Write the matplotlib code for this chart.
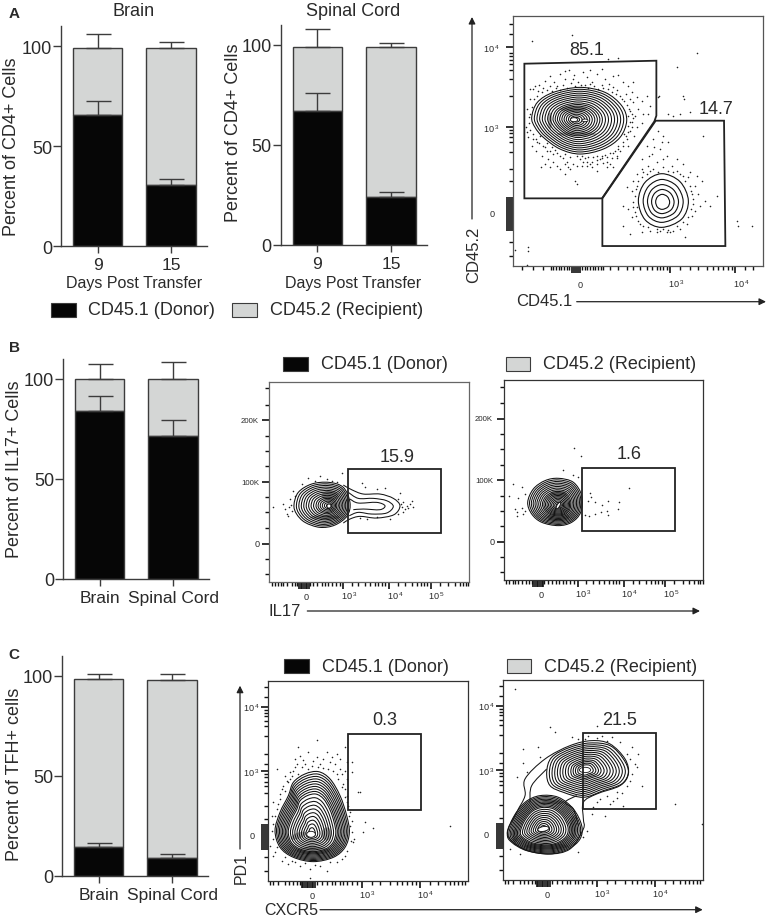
import matplotlib
matplotlib.use("AGG")
import matplotlib.pyplot as plt
import numpy as np
from matplotlib.patches import Ellipse, PathPatch, Rectangle
from matplotlib.path import Path

plt.rcParams["font.family"] = ["Liberation Sans", "DejaVu Sans"]

W, H = 768, 920
TEXT = "#2a2a2a"
BLACK = "#060606"
GREY = "#d4d6d5"
LINE = "#3c3c3c"

# stacked bars: donor share, its error top, total, total error top
A_BRAIN_DAYS = ["9", "15"]
A_BRAIN_DONOR = [65.5, 30.5]
A_BRAIN_DONOR_TOP = [72.5, 33.3]
A_BRAIN_TOTAL = [99, 99]
A_BRAIN_TOTAL_TOP = [106, 102]

A_CORD_DAYS = ["9", "15"]
A_CORD_DONOR = [67, 24]
A_CORD_DONOR_TOP = [76, 26.5]
A_CORD_TOTAL = [99, 99]
A_CORD_TOTAL_TOP = [108, 101]

TISSUES = ["Brain", "Spinal Cord"]
B_DONOR = [84, 71.5]
B_DONOR_TOP = [91.5, 79.5]
B_TOTAL = [100, 100]
B_TOTAL_TOP = [107.5, 108.5]

C_DONOR = [14.5, 9]
C_DONOR_TOP = [16.5, 11]
C_TOTAL = [98.5, 98]
C_TOTAL_TOP = [101, 101]

# flow plots, coordinates are channel values of each box
RING_15 = [1, .93, .86, .79, .72, .65, .58, .51, .44, .37, .31, .25, .19, .13, .07]
RING_18 = [1, .94, .88, .82, .76, .70, .64, .58, .52, .47, .42, .37, .32, .27, .22, .17, .12, .07]
RING_DENSE = [1, .96, .92, .88, .84, .80, .76, .72, .68, .64, .58, .52, .46, .40, .34, .28, .22, .16, .10]
RING_5 = [1, .8, .62, .45, .28]

A_BLOB = [(245, 355), (262, 310), (310, 280), (390, 265), (465, 280), (515, 320), (530, 365),
          (510, 415), (460, 450), (390, 465), (330, 450), (280, 415), (255, 385)]
A_BLOB_C = (378, 362)
A_SMALL = [(565, 605), (585, 550), (635, 524), (690, 548), (715, 605), (695, 660), (635, 685), (585, 662)]
A_SMALL_C = (637, 610)
A_GATE_1 = [(223, 194), (619, 185), (619, 350), (613, 367), (456, 598), (223, 598)]
A_GATE_2 = [(617, 365), (822, 365), (826, 741), (457, 741), (457, 598)]
A_DOTS = [(250, 270), (268, 258), (285, 245), (300, 232), (312, 250), (330, 225), (345, 240), (358, 212),
          (372, 228), (385, 250), (398, 218), (410, 235), (425, 248), (440, 225), (455, 210), (465, 240),
          (478, 255), (490, 232), (505, 228), (520, 250), (535, 262), (548, 250), (300, 262), (318, 268),
          (340, 258), (362, 252), (405, 258), (432, 262), (455, 258), (475, 270), (500, 272), (528, 285),
          (545, 280), (560, 295), (575, 305), (590, 290), (600, 320), (625, 295), (550, 310), (565, 330),
          (540, 335), (580, 345), (555, 350), (595, 345), (545, 370), (560, 385), (575, 372), (540, 395),
          (552, 410), (530, 420), (520, 440), (510, 455), (535, 440), (500, 470), (485, 478), (470, 490),
          (450, 480), (430, 475), (410, 490), (390, 480), (370, 495), (350, 488), (330, 470), (310, 465),
          (295, 480), (275, 470), (258, 455), (245, 440), (235, 415), (250, 420), (262, 430), (285, 445),
          (300, 455), (228, 385), (232, 400), (240, 270), (232, 330), (345, 525), (375, 545), (380, 555),
          (320, 500), (272, 505), (440, 515), (412, 500), (395, 500), (470, 505), (500, 478), (455, 470),
          (425, 505), (355, 505), (240, 300), (236, 355), (540, 300), (535, 350), (535, 380), (522, 405),
          (505, 440), (490, 462), (465, 468), (440, 470), (415, 474), (380, 472), (345, 465), (315, 452),
          (290, 432), (270, 412), (255, 262), (280, 268), (330, 272), (420, 255), (490, 265), (515, 300),
          (262, 290), (275, 280), (290, 272), (305, 275), (320, 262), (352, 266), (375, 260), (392, 258),
          (415, 266), (445, 270), (460, 266), (485, 278), (498, 285), (510, 290), (522, 305), (530, 318),
          (538, 330), (545, 345), (548, 358), (540, 368), (545, 385), (535, 400), (528, 412), (518, 428),
          (505, 450), (495, 455), (480, 462), (470, 475), (455, 478), (440, 482), (425, 488), (405, 478),
          (395, 472), (360, 475), (340, 478), (322, 462), (305, 445), (292, 455), (278, 440), (268, 432),
          (258, 420), (248, 405), (240, 392), (238, 372), (240, 345), (245, 325), (252, 300), (400, 490),
          (380, 500), (360, 510), (345, 495), (330, 510), (310, 490), (300, 505), (285, 495), (420, 495),
          (440, 495), (460, 492), (480, 495), (490, 505), (265, 275), (345, 215), (420, 212), (370, 240),
          (600, 385), (625, 395), (640, 410), (610, 420), (590, 440), (655, 430), (630, 450), (605, 465),
          (575, 480), (650, 470), (680, 480), (620, 490), (595, 500), (700, 495), (665, 500), (640, 505),
          (575, 510), (560, 525), (720, 520), (700, 530), (740, 530), (550, 545), (530, 565), (545, 575),
          (735, 560), (755, 545), (720, 560), (745, 585), (730, 600), (765, 605), (780, 620), (750, 620),
          (735, 635), (725, 650), (520, 620), (535, 630), (550, 610), (555, 640), (545, 655), (565, 665),
          (580, 680), (600, 695), (620, 700), (640, 690), (660, 700), (690, 690), (705, 715), (540, 705),
          (520, 680), (575, 700), (710, 675), (680, 680), (560, 560), (575, 535), (555, 590), (725, 585),
          (715, 535), (600, 515), (680, 515), (560, 625), (700, 670), (620, 690), (655, 692), (590, 525),
          (610, 510), (625, 518), (655, 515), (670, 520), (690, 525), (705, 545), (722, 575), (728, 615),
          (722, 630), (715, 655), (670, 695), (650, 700), (630, 695), (595, 685), (570, 675), (558, 650),
          (548, 625), (558, 570), (565, 545), (580, 520), (640, 480), (612, 445), (635, 430), (598, 470),
          (247, 127), (367, 108), (742, 163), (680, 203), (505, 176), (475, 180), (700, 290), (702, 300),
          (628, 292), (655, 345), (690, 345), (720, 340), (670, 350), (760, 410), (800, 590), (860, 665),
          (865, 680), (905, 680), (195, 752), (233, 745), (233, 757), (232, 798)]
A_X_MAJOR = [366, 372, 378, 384, 390, 660, 855]
A_X_MINOR = [215, 250, 280, 303, 310, 318, 326, 334, 342, 350, 358, 396, 404, 412,
             420, 428, 436, 444, 452, 460, 480, 505, 530, 550, 570, 590, 605, 620, 630, 640, 650, 690, 720,
             745, 770, 790, 805, 820, 835, 845, 885, 910]
A_Y_MAJOR = [143, 384, 597, 603, 609, 615, 621, 627, 633, 639, 645, 651, 657, 663, 669, 675, 681, 687, 693]
A_Y_MINOR = [75, 105, 163, 172, 182, 195, 213, 240, 290, 393, 403, 415, 430, 460, 510, 545, 730, 770]

B1_BLOB = [(192, 498), (205, 460), (245, 435), (297, 430), (340, 445), (360, 490), (352, 530), (315, 558),
           (270, 565), (225, 550), (200, 525)]
B1_BLOB_C = (297, 500)
B1_TAIL = [[(340, 438), (365, 452), (400, 465), (450, 465), (490, 478), (510, 500), (492, 527), (440, 537),
            (390, 532), (360, 540), (340, 552)],
           [(355, 460), (385, 478), (430, 478), (470, 485), (490, 502), (470, 522), (425, 525), (385, 520),
            (358, 530)],
           [(360, 480), (385, 492), (440, 490), (465, 500), (450, 512), (400, 510), (370, 512)]]
B1_GATE = [(354, 391), (634, 391), (634, 581), (354, 581)]
B1_DOTS = [(130, 503), (160, 495), (165, 510), (170, 525), (180, 480), (185, 515), (190, 455), (175, 530),
           (235, 417), (270, 412), (290, 420), (335, 402), (305, 425), (395, 432), (405, 445), (440, 450),
           (465, 448), (510, 462), (505, 480), (520, 490), (515, 505), (530, 500), (545, 485), (548, 505),
           (535, 508), (520, 520), (505, 525), (390, 538), (410, 540), (480, 540), (440, 535), (183, 498),
           (178, 505), (195, 470), (215, 435), (255, 425), (320, 428), (512, 495), (525, 510), (540, 495)]
B_X_MAJOR = [207, 212, 217, 222, 227, 232, 237, 340, 478, 603]
B_X_MINOR = [125, 135, 145, 152, 160, 172, 185, 195, 202, 240, 250, 262,
             275, 285, 295, 305, 318, 330, 365, 385, 405, 420, 435, 445, 455, 465, 505, 525, 545, 560, 572,
             582, 592, 630, 655, 675, 690, 700, 708, 715]
B_Y_MAJOR = [244, 429, 614]
B_Y_MINOR = [148, 198, 290, 335, 382, 475, 520, 567, 660, 705]

B2_BLOB = [(893, 490), (910, 450), (945, 425), (985, 418), (1030, 430), (1055, 470), (1052, 520), (1025, 550),
           (985, 560), (935, 550), (905, 525)]
B2_BLOB_C = (985, 500)
B2_GATE = [(1057, 386), (1336, 386), (1336, 577), (1057, 577)]
B2_DOTS = [(848, 435), (838, 470), (875, 445), (885, 465), (865, 478), (855, 510), (860, 520), (875, 508),
           (880, 525), (860, 530), (885, 515), (1000, 392), (1030, 408), (1032, 328), (1053, 351), (1045, 415),
           (1080, 462), (1082, 475), (1075, 485), (1095, 490), (1115, 497), (1135, 485), (1168, 490),
           (1197, 447), (1165, 510), (1130, 515), (1112, 520), (1095, 525), (1078, 532), (1065, 528), (1135, 528)]

C1_BLOB = [(135, 575), (150, 520), (175, 470), (190, 430), (225, 405), (265, 398), (300, 420), (330, 470),
           (350, 530), (358, 580), (345, 625), (310, 655), (250, 668), (190, 655), (150, 625)]
C1_BLOB_C = (245, 585)
C1_GATE = [(354, 284), (573, 284), (573, 514), (354, 514)]
C1_DOTS = [(205, 325), (262, 302), (210, 350), (235, 340), (260, 355), (290, 340), (200, 375), (225, 375),
           (245, 380), (270, 375), (300, 370), (320, 345), (330, 360), (345, 325), (350, 370), (140, 390),
           (165, 410), (190, 395), (310, 395), (335, 405), (350, 420), (365, 370), (365, 400), (160, 440),
           (175, 430), (150, 465), (130, 490), (140, 510), (125, 530), (345, 450), (355, 500), (385, 460),
           (360, 520), (365, 545), (405, 548), (430, 567), (400, 578), (372, 600), (125, 575), (120, 620),
           (130, 650), (155, 665), (175, 675), (210, 680), (240, 690), (270, 680), (290, 695), (320, 670),
           (345, 650), (240, 717), (660, 560), (390, 458), (150, 480), (165, 455), (215, 385), (280, 388),
           (180, 420), (325, 420), (340, 435), (350, 470), (365, 580), (370, 610), (135, 640), (195, 670),
           (195, 360), (220, 362), (250, 365), (280, 360), (305, 355), (315, 375), (330, 390), (345, 395),
           (185, 410), (170, 425), (155, 450), (145, 495), (135, 530), (128, 555), (130, 600), (140, 625),
           (165, 655), (185, 665), (225, 672), (255, 678), (300, 668), (335, 660), (352, 635), (362, 605),
           (360, 560), (358, 530), (352, 490), (345, 475), (335, 445), (320, 405), (295, 390), (265, 385),
           (235, 390), (205, 405), (195, 385), (180, 400)]
C_X_MAJOR = [215, 220, 225, 230, 235, 240, 245, 250, 255, 395, 570]
C_X_MINOR = [120, 130, 145, 165, 178, 190, 200, 210, 260, 275,
             290, 305, 315, 330, 340, 352, 365, 380, 425, 450, 480, 500, 515, 530, 545, 558, 600, 625, 645,
             660, 672, 685, 695, 705]
C_Y_MAJOR = [203, 395, 558, 564, 570, 576, 582, 588, 594, 600, 606, 612, 618, 624, 630]
C_Y_MINOR = [145, 175, 212, 222, 232, 245, 262, 290, 345, 375, 405, 415, 428, 440, 462, 500, 540, 655, 695]

C2_LOWER = [(832, 585), (850, 535), (885, 490), (930, 470), (985, 475), (1030, 510), (1055, 560), (1050, 600),
            (1015, 630), (960, 645), (890, 635), (845, 610)]
C2_LOWER_C = (940, 570)
C2_UPPER = [(950, 400), (965, 355), (1020, 325), (1080, 312), (1140, 320), (1180, 360), (1195, 400),
            (1175, 435), (1120, 455), (1060, 475), (1000, 460), (960, 440)]
C2_UPPER_C = (1065, 393)
C2_OUTER = [[(832, 585), (860, 520), (885, 470), (885, 420), (945, 360), (1020, 320), (1085, 305), (1140, 315),
             (1185, 360), (1195, 405), (1170, 440), (1100, 465), (1060, 490), (1060, 540), (1060, 570),
             (1020, 630), (955, 645), (880, 630)]]
C2_LINKS = [[(900, 490), (905, 440), (950, 390)], [(1040, 470), (1005, 490), (1030, 510), (1045, 560)]]
C2_GATE = [(1059, 281), (1278, 281), (1278, 511), (1059, 511)]
C2_DOTS = [(855, 150), (960, 265), (975, 278), (1100, 262), (880, 330), (925, 325), (930, 355), (880, 372),
           (860, 415), (890, 400), (1025, 295), (1045, 300), (1075, 292), (1100, 298), (1115, 290), (1145, 295),
           (1170, 310), (1205, 325), (1190, 345), (1225, 345), (1215, 375), (1220, 385), (1205, 405), (1200, 425),
           (1235, 440), (1190, 440), (1160, 460), (1130, 470), (1110, 480), (1140, 495), (1180, 500), (1090, 505),
           (1085, 525), (1125, 530), (1335, 495), (1415, 555), (1070, 575), (1060, 595), (1045, 640), (840, 630),
           (870, 645), (1160, 478), (1175, 462), (1150, 485), (1100, 490), (1065, 300), (1130, 305), (1200, 360)]

# dark patches where the rings run together: x, y, width, height, angle
A_PATCHES = [(370, 330, 80, 16, 0), (380, 405, 120, 12, 0), (300, 365, 12, 50, 0)]
A_HOLES = [(372, 362, 22, 12, 0), (405, 364, 18, 8, 0)]
B1_PATCHES = [(300, 470, 50, 30, 0), (285, 535, 90, 14, 0)]
B1_HOLES = [(297, 501, 12, 12, 0)]
B2_PATCHES = [(985, 535, 65, 24, 0), (985, 465, 50, 22, 0)]
B2_HOLES = [(985, 500, 8, 22, 30)]
C1_PATCHES = [(250, 635, 100, 22, 0), (205, 590, 50, 18, -20), (290, 585, 30, 40, 0)]
C1_HOLES = [(243, 586, 26, 18, 0)]
C2_PATCHES = [(950, 622, 130, 18, 0), (1030, 565, 20, 70, 0), (970, 490, 70, 12, 0), (855, 590, 18, 40, 0)]
C2_HOLES = [(940, 570, 34, 14, -10), (1065, 393, 34, 16, 0)]

fig = plt.figure(figsize=(W / 100, H / 100), dpi=100)


def px_axes(x0, y0, x1, y1):
    return fig.add_axes([x0 / W, 1 - y1 / H, (x1 - x0) / W, (y1 - y0) / H])


def stacked_bars(rect, labels, donor, donor_top, total, total_top, label_size=12.5, label_pad=3):
    ax = px_axes(*rect)
    x = np.arange(len(labels))
    ax.bar(x, np.array(total) - np.array(donor), 0.67, bottom=donor, color=GREY, edgecolor=LINE, linewidth=1.0)
    ax.bar(x, donor, 0.67, color=BLACK, edgecolor=LINE, linewidth=1.0)
    for tops, base in ((donor_top, donor), (total_top, total)):
        ax.errorbar(x, base, yerr=[np.zeros(len(x)), np.array(tops) - np.array(base)], fmt="none",
                    ecolor=LINE, elinewidth=1.0, capsize=9, capthick=1.0)
    ax.set_xlim(-0.5, 1.49)
    ax.set_ylim(0, 110)
    ax.set_yticks([0, 50, 100])
    ax.set_xticks(x, labels)
    ax.tick_params(axis="y", labelsize=13, length=6, width=1.0, color=LINE, labelcolor=TEXT, pad=0.5)
    ax.tick_params(axis="x", labelsize=label_size, length=5, width=1.0, color=LINE, labelcolor=TEXT, pad=label_pad)
    ax.spines[["top", "right"]].set_visible(False)
    ax.spines[["left", "bottom"]].set_color(LINE)
    ax.spines[["left", "bottom"]].set_linewidth(1.0)
    return ax


def smooth_path(pts, closed=True):
    # catmull-rom through the points, as bezier segments
    p = np.array(pts, dtype=float)
    n = len(p)
    verts = [p[0]]
    codes = [Path.MOVETO]
    for i in range(n if closed else n - 1):
        if closed:
            p0, p1, p2, p3 = p[(i - 1) % n], p[i], p[(i + 1) % n], p[(i + 2) % n]
        else:
            p0, p1, p2, p3 = p[max(i - 1, 0)], p[i], p[i + 1], p[min(i + 2, n - 1)]
        verts += [p1 + (p2 - p0) / 6, p2 - (p3 - p1) / 6, p2]
        codes += [Path.CURVE4] * 3
    return Path(verts, codes)


def contour_rings(ax, outline, center, rings, lw=0.75):
    c = np.array(center, dtype=float)
    pts = np.array(outline, dtype=float)
    for f in rings:
        ax.add_patch(PathPatch(smooth_path(c + f * (pts - c)), fill=False, ec="#101010", lw=lw))


def patches(ax, dark, holes):
    for x, y, w, h, a in dark:
        ax.add_patch(Ellipse((x, y), w, h, angle=a, fc="#101010", ec="none", alpha=0.35, zorder=3))
    for x, y, w, h, a in holes:
        ax.add_patch(Ellipse((x, y), w, h, angle=a, fc="white", ec="#101010", lw=0.6, zorder=4))


def flow_box(rect, lims, x_major, x_minor, y_major, y_minor, dots, gates, frame="#333333"):
    ax = px_axes(*rect)
    ax.set_xlim(lims[0], lims[1])
    ax.set_ylim(lims[3], lims[2])
    ax.set_xticks(x_major, [""] * len(x_major))
    ax.set_xticks(x_minor, minor=True)
    ax.set_yticks(y_major, [""] * len(y_major))
    ax.set_yticks(y_minor, minor=True)
    ax.tick_params(which="major", length=5, width=1.2, color="#111111")
    ax.tick_params(which="minor", length=2.6, width=1.0, color="#111111")
    for s in ax.spines.values():
        s.set_color(frame)
        s.set_linewidth(0.9)
    d = np.array(dots)
    ax.scatter(d[:, 0], d[:, 1], s=1.3, color="#222222", linewidths=0)
    for g in gates:
        ax.add_patch(plt.Polygon(g, closed=True, fill=False, ec="#222222", lw=1.3, zorder=5))
    return ax


def power_label(ax, x, y, text, size=6.6):
    ax.text(x, y, text, fontsize=size, color=TEXT, ha="center", va="center", clip_on=False)


P3 = r"$\mathdefault{10^{\,3}}$"
P4 = r"$\mathdefault{10^{\,4}}$"
P5 = r"$\mathdefault{10^{\,5}}$"

# bar panels
stacked_bars((61, 27, 207, 247), A_BRAIN_DAYS, A_BRAIN_DONOR, A_BRAIN_DONOR_TOP, A_BRAIN_TOTAL, A_BRAIN_TOTAL_TOP, 12.5, 3)
stacked_bars((280.7, 26, 427, 246), A_CORD_DAYS, A_CORD_DONOR, A_CORD_DONOR_TOP, A_CORD_TOTAL, A_CORD_TOTAL_TOP, 12.5, 3)
stacked_bars((63, 360, 209, 580), TISSUES, B_DONOR, B_DONOR_TOP, B_TOTAL, B_TOTAL_TOP)
stacked_bars((62, 657, 208, 877), TISSUES, C_DONOR, C_DONOR_TOP, C_TOTAL, C_TOTAL_TOP)

# panel A flow
ax = flow_box((512.7, 16.7, 762.7, 266.7), (188, 938, 50, 800), A_X_MAJOR, A_X_MINOR, A_Y_MAJOR, A_Y_MINOR,
              A_DOTS, [A_GATE_1, A_GATE_2], frame="#555555")
contour_rings(ax, A_BLOB, A_BLOB_C, RING_18)
contour_rings(ax, A_SMALL, A_SMALL_C, RING_5, lw=0.8)
patches(ax, A_PATCHES, A_HOLES)
ax.text(410, 150, "85.1", fontsize=13, color=TEXT, ha="center", va="center")
ax.text(798, 328, "14.7", fontsize=13, color=TEXT, ha="center", va="center")
for xp, yp, t in [(390, 855, "0"), (680, 853, P3), (875, 853, P4), (127, 643, "0"), (125, 148, P4), (125, 388, P3)]:
    power_label(ax, xp, yp, t)

# panel B flow
ax = flow_box((269.3, 382.7, 469.3, 582.7), (118, 718, 128, 728), B_X_MAJOR, B_X_MINOR, B_Y_MAJOR, B_Y_MINOR,
              B1_DOTS, [B1_GATE], frame="#666666")
contour_rings(ax, B1_BLOB, B1_BLOB_C, RING_15)
patches(ax, B1_PATCHES, B1_HOLES)
for line in B1_TAIL:
    ax.add_patch(PathPatch(smooth_path(line, closed=False), fill=False, ec="#151515", lw=0.75))
ax.text(502, 353, "15.9", fontsize=13, color=TEXT, ha="center", va="center")
for xp, yp, t in [(230, 772, "0"), (357, 768, P3), (495, 768, P4), (620, 768, P5),
                  (60, 245, "200K"), (60, 429, "100K"), (82, 614, "0")]:
    power_label(ax, xp, yp, t, 5.6 if "K" in t else 6.6)

ax = flow_box((503.7, 381.3, 703.3, 581.3), (821, 1420, 124, 724), [v + 703 for v in B_X_MAJOR],
              [v + 703 for v in B_X_MINOR], [v - 5 for v in B_Y_MAJOR], [v - 5 for v in B_Y_MINOR], B2_DOTS, [B2_GATE])
contour_rings(ax, B2_BLOB, B2_BLOB_C, RING_18)
patches(ax, B2_PATCHES, B2_HOLES)
ax.text(1198, 345, "1.6", fontsize=13, color=TEXT, ha="center", va="center")
for xp, yp, t in [(933, 768, "0"), (1060, 764, P3), (1198, 764, P4), (1323, 764, P5),
                  (762, 240, "200K"), (762, 425, "100K"), (785, 609, "0")]:
    power_label(ax, xp, yp, t, 5.6 if "K" in t else 6.6)

# panel C flow
ax = flow_box((267.7, 682.3, 467.7, 882.3), (113, 713, 127, 727), C_X_MAJOR, C_X_MINOR, C_Y_MAJOR, C_Y_MINOR,
              C1_DOTS, [C1_GATE])
contour_rings(ax, C1_BLOB, C1_BLOB_C, RING_DENSE)
patches(ax, C1_PATCHES, C1_HOLES)
ax.text(463, 243, "0.3", fontsize=13, color=TEXT, ha="center", va="center")
for xp, yp, t in [(245, 770, "0"), (412, 765, P3), (585, 765, P4), (65, 590, "0"), (65, 205, P4), (65, 400, P3)]:
    power_label(ax, xp, yp, t)

ax = flow_box((502.7, 681.3, 702.7, 881.3), (818, 1418, 124, 724), [v + 705 for v in C_X_MAJOR],
              [v + 705 for v in C_X_MINOR], [v - 3 for v in C_Y_MAJOR], [v - 3 for v in C_Y_MINOR], C2_DOTS, [C2_GATE])
contour_rings(ax, C2_LOWER, C2_LOWER_C, RING_DENSE)
contour_rings(ax, C2_UPPER, C2_UPPER_C, RING_15[:13])
patches(ax, C2_PATCHES, C2_HOLES)
for line in C2_OUTER:
    ax.add_patch(PathPatch(smooth_path(line), fill=False, ec="#151515", lw=0.75))
for line in C2_LINKS:
    ax.add_patch(PathPatch(smooth_path(line, closed=False), fill=False, ec="#151515", lw=0.75))
ax.text(1170, 243, "21.5", fontsize=13, color=TEXT, ha="center", va="center")
for xp, yp, t in [(950, 768, "0"), (1117, 763, P3), (1290, 763, P4), (769, 588, "0"), (768, 203, P4), (768, 397, P3)]:
    power_label(ax, xp, yp, t)

# everything placed on the page: letters, titles, legends, arrows
page = fig.add_axes([0, 0, 1, 1], zorder=10)
page.set_xlim(0, W)
page.set_ylim(H, 0)
page.axis("off")


def label(x, y, text, size=12.5, rotation=0, ha="center", weight="normal"):
    page.text(x, y, text, fontsize=size, color=TEXT, ha=ha, va="center", rotation=rotation,
              rotation_mode="anchor", fontweight=weight)


def legend(y0, y1, x_box1, x_text1, x_box2, x_text2, size=13):
    page.add_patch(Rectangle((x_box1, y0), 24.5, y1 - y0, fc=BLACK, ec=LINE, lw=0.8))
    page.add_patch(Rectangle((x_box2, y0), 24.5, y1 - y0, fc=GREY, ec=LINE, lw=0.8))
    yc = (y0 + y1) / 2
    label(x_text1, yc, "CD45.1 (Donor)", size, ha="left")
    label(x_text2, yc, "CD45.2 (Recipient)", size, ha="left")


def arrow(x0, y0, x1, y1):
    page.annotate("", xy=(x1, y1), xytext=(x0, y0),
                  arrowprops=dict(arrowstyle="-|>", color="#222222", lw=0.9, mutation_scale=10, shrinkA=0, shrinkB=0))


label(14, 14, "A", 11, weight="bold")
label(14, 348, "B", 11, weight="bold")
label(14, 655, "C", 11, weight="bold")
label(134, 12, "Brain", 13)
label(353, 12, "Spinal Cord", 13)
label(134, 284, "Days Post Transfer", 11.5)
label(353, 284, "Days Post Transfer", 11.5)
label(12, 147, "Percent of CD4+ Cells", 13, 90)
label(233, 133, "Percent of CD4+ Cells", 13, 90)
label(15, 469, "Percent of IL17+ Cells", 13, 90)
label(15, 774, "Percent of TFH+ cells", 13, 90)

legend(304, 318, 51, 88, 232, 270)
legend(358, 371.7, 283.3, 320.7, 505.7, 543)
legend(660.3, 674, 284.3, 321.7, 506.7, 544)

arrow(472, 220, 472, 18)
label(474, 255, "CD45.2", 12, 90)
arrow(576.7, 302.7, 766, 302.7)
label(544.5, 302, "CD45.1", 12)
arrow(307.3, 612, 700, 612)
label(285, 612, "IL17", 12)
arrow(240, 850, 240, 686.7)
label(241, 869, "PD1", 11.5, 90)
arrow(320, 910.7, 702.7, 910.7)
label(291.7, 910.7, "CXCR5", 11.5)

fig.savefig("out.png", dpi=100)
